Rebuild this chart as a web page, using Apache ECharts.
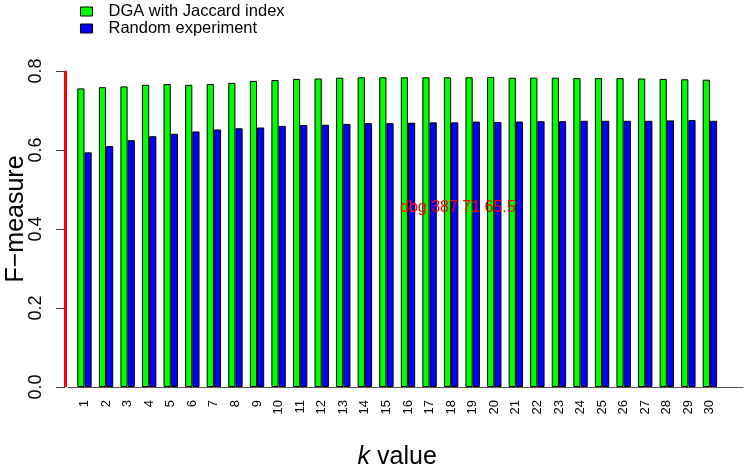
<!DOCTYPE html>
<html>
<head>
<meta charset="utf-8">
<script src="https://cdn.jsdelivr.net/npm/echarts@6/dist/echarts.min.js"></script>
<style>
html,body{margin:0;padding:0;background:#fff;}
#chart{width:745px;height:466px;}
</style>
</head>
<body>
<div id="chart"></div>
<script>
var kValues = ['1','2','3','4','5','6','7','8','9','10','11','12','13','14','15','16','17','18','19','20','21','22','23','24','25','26','27','28','29','30'];
var dgaJaccard = [0.756,0.759,0.761,0.765,0.767,0.765,0.767,0.770,0.775,0.777,0.780,0.781,0.783,0.784,0.784,
                  0.784,0.784,0.784,0.784,0.785,0.783,0.783,0.783,0.782,0.782,0.782,0.781,0.780,0.779,0.778];
var randomExp = [0.594,0.610,0.625,0.635,0.641,0.647,0.652,0.655,0.657,0.661,0.663,0.664,0.666,0.668,0.668,
                 0.669,0.670,0.670,0.672,0.671,0.672,0.673,0.673,0.674,0.674,0.674,0.674,0.675,0.676,0.674];
var yTicks = [0.0, 0.2, 0.4, 0.6, 0.8];
var seriesNames = ['DGA with Jaccard index', 'Random experiment'];

var FONT = 'Liberation Sans, Arial, Helvetica, sans-serif';

var chart = echarts.init(document.getElementById('chart'), null, {renderer:'canvas'});
chart.setOption({
  animation: false,
  backgroundColor: '#ffffff',
  textStyle: {fontFamily: FONT, color: '#000'},
  legend: {
    orient: 'vertical',
    left: 80,
    top: 3,
    padding: 0,
    itemWidth: 12,
    itemHeight: 9,
    itemGap: 0,
    icon: 'rect',
    data: seriesNames,
    textStyle: {fontSize: 16.5, color: '#000', fontFamily: FONT, padding: [0,0,0,11]},
    itemStyle: {borderColor: '#000', borderWidth: 1}
  },
  grid: [
    {left: 73.7, right: 24.3, top: 71, bottom: 79, containLabel: false, outerBoundsMode: 'none'},
    {left: 68, right: 2, top: 71, bottom: 79, containLabel: false, outerBoundsMode: 'none'}
  ],
  xAxis: [
    {
      type: 'category',
      gridIndex: 0,
      data: kValues,
      name: '{i|k} value',
      nameLocation: 'middle',
      nameGap: 58,
      nameMoveOverlap: false,
      nameTextStyle: {
        fontSize: 25, color: '#000', fontFamily: FONT,
        rich: {i: {fontStyle: 'italic', fontSize: 25, fontFamily: FONT, color: '#000'}}
      },
      axisLine: {show: false},
      axisTick: {show: false},
      splitLine: {show: false},
      axisLabel: {
        interval: 0,
        rotate: 90,
        margin: 13,
        fontSize: 13,
        color: '#000',
        fontFamily: FONT
      }
    },
    {
      type: 'value',
      gridIndex: 1,
      min: 0,
      max: 1,
      axisLine: {show: true, onZero: false, lineStyle: {color: '#555', width: 1}},
      axisTick: {show: false},
      axisLabel: {show: false},
      splitLine: {show: false}
    }
  ],
  yAxis: [
    {
      type: 'value',
      gridIndex: 0,
      min: 0,
      max: 0.8,
      interval: 0.2,
      offset: 8.7,
      name: 'F\u2212measure',
      nameLocation: 'middle',
      nameRotate: 90,
      nameGap: 36,
      nameMoveOverlap: false,
      nameTextStyle: {fontSize: 25, color: '#000', fontFamily: FONT, padding: [0,0,0,20]},
      axisLine: {show: true, lineStyle: {color: '#444', width: 1}},
      axisTick: {show: true, length: 9, lineStyle: {color: '#444'}},
      splitLine: {show: false},
      axisLabel: {
        rotate: 90,
        margin: 20,
        fontSize: 18,
        color: '#000',
        fontFamily: FONT,
        customValues: yTicks,
        formatter: function(v){ return v.toFixed(1); }
      }
    },
    {
      type: 'value',
      gridIndex: 1,
      show: false,
      min: 0,
      max: 1
    }
  ],
  series: [
    {
      name: seriesNames[0],
      type: 'bar',
      data: dgaJaccard,
      barWidth: 7.2,
      barGap: '0%',
      itemStyle: {color: '#00FF00', borderColor: '#000', borderWidth: 1}
    },
    {
      name: seriesNames[1],
      type: 'bar',
      data: randomExp,
      barWidth: 7.2,
      barGap: '0%',
      itemStyle: {color: '#0000FF', borderColor: '#000', borderWidth: 1}
    }
  ]
});

var yBottom = chart.convertToPixel({yAxisIndex: 0}, yTicks[0]);
var yTop = chart.convertToPixel({yAxisIndex: 0}, yTicks[yTicks.length - 1]);
var spineX = Math.round(chart.convertToPixel({xAxisIndex: 1}, 0)) - 3 + 0.5;
chart.setOption({
  graphic: [
    {
      type: 'line',
      silent: true,
      z: 100,
      shape: {x1: spineX, y1: yBottom, x2: spineX, y2: yTop},
      style: {stroke: '#ff0000', lineWidth: 3}
    },
    {
      type: 'text', left: 400, top: 200, z: 100,
      style: {text: 'dbg ' + yBottom + ' ' + yTop + ' ' + spineX, fill: '#f00', fontSize: 16}
    }
  ]
});
</script>
</body>
</html>
